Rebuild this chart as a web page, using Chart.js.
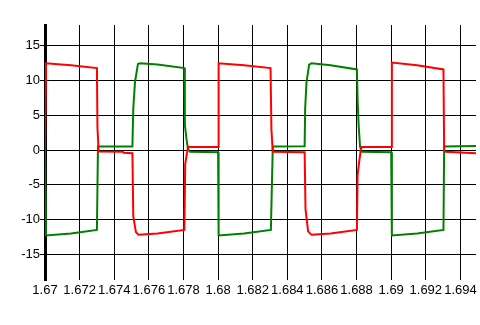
<!DOCTYPE html>
<html>
<head>
<meta charset="utf-8">
<script src="https://cdn.jsdelivr.net/npm/chart.js@4"></script>
<style>
  html, body { margin: 0; padding: 0; background: #fff; }
  #wave { display: block; }
</style>
</head>
<body>
<canvas id="wave" width="480" height="325"></canvas>
<script>
// tick values + labels
const xTicks = [1.67, 1.672, 1.674, 1.676, 1.678, 1.68, 1.682, 1.684, 1.686, 1.688, 1.69, 1.692, 1.694];
const xTickLabels = ['1.67', '1.672', '1.674', '1.676', '1.678', '1.68', '1.682', '1.684', '1.686', '1.688', '1.69', '1.692', '1.694'];
const yTicks = [-15, -10, -5, 0, 5, 10, 15];
const yTickLabels = ['-15', '-10', '-5', '0', '5', '10', '15'];

// red trace (time, value)
const redT = [1.67, 1.67006, 1.6715, 1.673, 1.67303, 1.6731, 1.6745, 1.67455, 1.67505, 1.6751, 1.67525, 1.6754, 1.6765, 1.67805,
  1.6781, 1.67826, 1.68, 1.68003, 1.6815, 1.68303, 1.68308, 1.68316, 1.685, 1.68505, 1.6852, 1.6854, 1.6865, 1.68802,
  1.68806, 1.68815, 1.68823, 1.6883, 1.69, 1.69004, 1.6915, 1.69302, 1.69306, 1.69315, 1.6949];
const redV = [0, 12.5, 12.2, 11.8, 3.2, -0.2, -0.25, -0.4, -0.45, -9.5, -11.8, -12.2, -12.0, -11.5,
  -2.0, 0.45, 0.45, 12.5, 12.2, 11.8, 3.0, -0.25, -0.3, -8.5, -11.7, -12.2, -12.0, -11.5,
  -3.6, -1.7, -0.25, 0.45, 0.45, 12.6, 12.2, 11.6, 0.0, -0.25, -0.45];

// green trace (time, value)
const greenT = [1.67, 1.67006, 1.6715, 1.673, 1.67306, 1.67505, 1.6751, 1.6752, 1.67537, 1.67549, 1.6765, 1.67805, 1.67808,
  1.67818, 1.67826, 1.67837, 1.68, 1.68003, 1.6815, 1.68305, 1.68316, 1.685, 1.68503, 1.68511, 1.68526, 1.6854, 1.6865,
  1.68802, 1.68806, 1.68812, 1.6882, 1.6883, 1.69, 1.69004, 1.6915, 1.69302, 1.69306, 1.6949];
const greenV = [0, -12.3, -12.0, -11.5, 0.5, 0.5, 6, 9.8, 12.4, 12.5, 12.3, 11.8, 3.6,
  1.5, 0.2, -0.25, -0.3, -12.3, -12.0, -11.5, 0.5, 0.55, 6, 9.8, 12.3, 12.5, 12.2,
  11.6, 7.2, 3.6, 0.5, -0.25, -0.3, -12.3, -12.0, -11.5, 0.5, 0.6];

const toPoints = (ts, vs) => ts.map((t, i) => ({ x: t, y: vs[i] }));

(() => {
  const ctx = document.getElementById('wave').getContext('2d');
  new Chart(ctx, {
    type: 'line',
    data: {
      datasets: [
        { data: toPoints(redT, redV), borderColor: '#ff0000', borderWidth: 2 },
        { data: toPoints(greenT, greenV), borderColor: '#008000', borderWidth: 2 }
      ]
    },
    options: {
      responsive: false,
      animation: false,
      layout: { padding: { top: 25, right: 4, left: 0, bottom: 0 } },
      elements: { point: { radius: 0 }, line: { tension: 0 } },
      plugins: { legend: { display: false }, tooltip: { enabled: false } },
      scales: {
        x: {
          type: 'linear',
          min: 1.67,
          max: 1.6949,
          afterBuildTicks: (scale) => { scale.ticks = xTicks.map(v => ({ value: v })); },
          afterFit: (scale) => { scale.height = 45; },
          grid: { color: '#000', lineWidth: 1, drawTicks: false },
          border: { display: false },
          ticks: {
            color: '#000',
            padding: 3,
            maxRotation: 0,
            autoSkip: false,
            font: { family: 'Liberation Sans, Arial', size: 13 },
            callback: (v, i) => xTickLabels[i]
          }
        },
        y: {
          min: -18.7,
          max: 18,
          afterBuildTicks: (scale) => { scale.ticks = yTicks.map(v => ({ value: v })); },
          afterFit: (scale) => { scale.width = 45; },
          grid: { color: '#000', lineWidth: 1, drawTicks: true, tickLength: 5 },
          border: { display: true, color: '#000', width: 3 },
          ticks: {
            color: '#000',
            padding: 0,
            font: { family: 'Liberation Sans, Arial', size: 13 },
            callback: (v, i) => yTickLabels[i]
          }
        }
      }
    }
  });
})();
</script>
</body>
</html>
